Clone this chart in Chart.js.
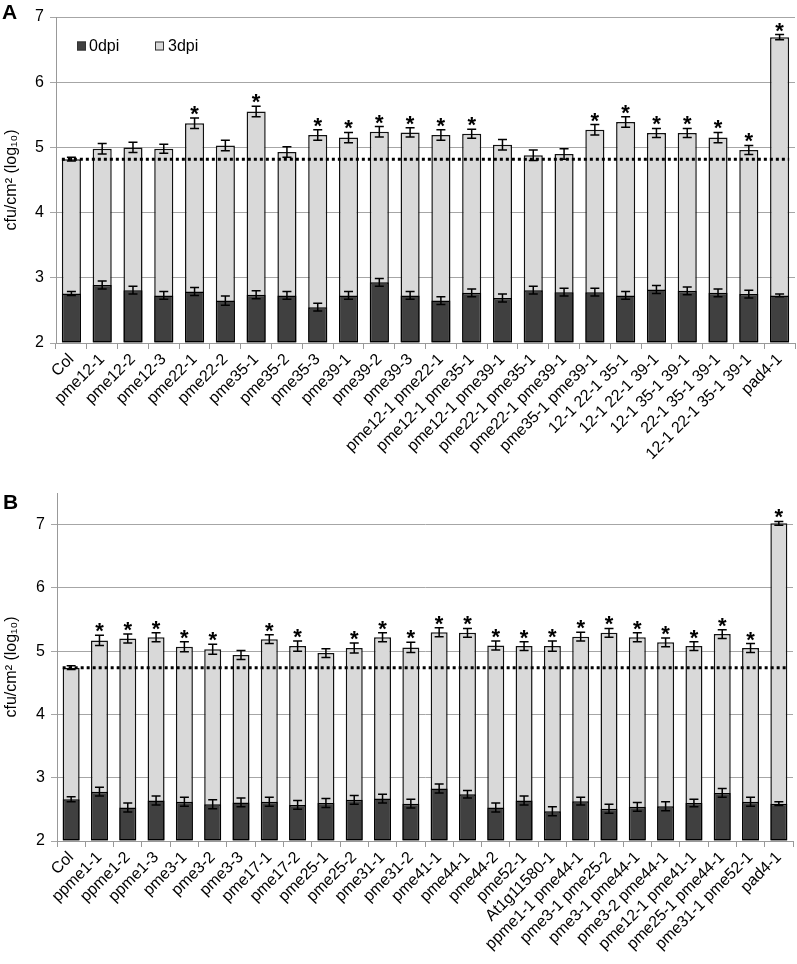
<!DOCTYPE html>
<html><head><meta charset="utf-8">
<script src="https://cdn.jsdelivr.net/npm/chart.js@4/dist/chart.umd.min.js"></script>
<style>
body{margin:0;background:#fff;width:797px;height:964px;position:relative;overflow:hidden;font-family:"Liberation Sans",Arial,sans-serif}
.panel{position:absolute;left:0}
.letter{position:absolute;font-weight:bold;font-size:21px;line-height:21px;color:#000;z-index:2}
</style></head><body>
<div class="panel" style="top:0"><canvas id="cA" width="797" height="470"></canvas></div>
<div class="panel" style="top:470px"><canvas id="cB" width="797" height="494"></canvas></div>
<div class="letter" style="left:2px;top:1px">A</div>
<div class="letter" style="left:3px;top:491px">B</div>
<script>
const labelsA = ["Col","pme12-1","pme12-2","pme12-3","pme22-1","pme22-2","pme35-1","pme35-2","pme35-3","pme39-1","pme39-2","pme39-3","pme12-1 pme22-1","pme12-1 pme35-1","pme12-1 pme39-1","pme22-1 pme35-1","pme22-1 pme39-1","pme35-1 pme39-1","12-1 22-1 35-1","12-1 22-1 39-1","12-1 35-1 39-1","22-1 35-1 39-1","12-1 22-1 35-1 39-1","pad4-1"];
const dpi3A = [4.82,4.98,5.00,4.98,5.37,5.03,5.55,4.93,5.19,5.15,5.24,5.23,5.19,5.21,5.04,4.88,4.90,5.27,5.39,5.22,5.22,5.15,4.96,6.69];
const err3A = [0.03,0.08,0.08,0.07,0.08,0.08,0.08,0.08,0.08,0.08,0.08,0.07,0.08,0.07,0.08,0.08,0.08,0.08,0.08,0.07,0.07,0.08,0.07,0.04];
const dpi0A = [2.76,2.89,2.81,2.73,2.79,2.65,2.74,2.73,2.55,2.73,2.93,2.73,2.65,2.77,2.69,2.81,2.78,2.78,2.73,2.82,2.80,2.77,2.75,2.73];
const err0A = [0.03,0.06,0.06,0.06,0.06,0.07,0.06,0.06,0.06,0.06,0.06,0.06,0.06,0.06,0.06,0.06,0.06,0.06,0.06,0.06,0.06,0.06,0.06,0.02];
const starsA = [0,0,0,0,1,0,1,0,1,1,1,1,1,1,0,0,0,1,1,1,1,1,1,1];

const labelsB = ["Col","ppme1-1","ppme1-2","ppme1-3","pme3-1","pme3-2","pme3-3","pme17-1","pme17-2","pme25-1","pme25-2","pme31-1","pme31-2","pme41-1","pme44-1","pme44-2","pme52-1","At1g11580-1","ppme1-1 pme44-1","pme3-1 pme25-2","pme3-1 pme44-1","pme3-2 pme44-1","pme12-1 pme41-1","pme25-1 pme44-1","pme31-1 pme52-1","pad4-1"];
const dpi3B = [4.74,5.17,5.20,5.22,5.07,5.03,4.94,5.19,5.08,4.97,5.05,5.22,5.06,5.30,5.29,5.09,5.08,5.08,5.23,5.29,5.22,5.14,5.08,5.27,5.05,7.02];
const err3B = [0.03,0.08,0.07,0.07,0.08,0.08,0.07,0.07,0.08,0.07,0.08,0.07,0.08,0.07,0.07,0.07,0.07,0.08,0.07,0.07,0.07,0.07,0.07,0.07,0.07,0.03];
const dpi0B = [2.66,2.78,2.53,2.64,2.62,2.58,2.61,2.62,2.57,2.60,2.65,2.67,2.59,2.83,2.74,2.53,2.64,2.47,2.63,2.51,2.54,2.55,2.60,2.76,2.62,2.59];
const err0B = [0.04,0.07,0.07,0.07,0.07,0.07,0.07,0.07,0.07,0.07,0.07,0.07,0.07,0.07,0.06,0.07,0.07,0.07,0.06,0.07,0.07,0.07,0.06,0.07,0.07,0.03];
const starsB = [0,1,1,1,1,1,0,1,1,0,1,1,1,1,1,1,1,1,1,1,1,1,1,1,1,1];

const yTicks = [2,3,4,5,6,7];
const seriesNames = ["0dpi","3dpi"];

Chart.defaults.font.family = '"Liberation Sans", Arial, sans-serif';
Chart.defaults.color = '#000';

const extras = {
  id: 'extras',
  afterDatasetsDraw(chart, args, opts) {
    const ctx = chart.ctx, y = chart.scales.y;
    const m0 = chart.getDatasetMeta(0), m3 = chart.getDatasetMeta(1);
    ctx.save();
    const ref = opts.vals3[0];
    const first = m3.data[0], last = m3.data[m3.data.length-1];
    ctx.strokeStyle = '#000'; ctx.lineWidth = 3; ctx.setLineDash([3,3]);
    ctx.beginPath();
    ctx.moveTo(first.x - first.width/2, y.getPixelForValue(ref));
    ctx.lineTo(last.x + last.width/2, y.getPixelForValue(ref));
    ctx.stroke();
    ctx.setLineDash([]);
    ctx.lineWidth = 1.5;
    const drawErr = (meta, vals, errs) => {
      meta.data.forEach((el, i) => {
        const yt = y.getPixelForValue(vals[i] + errs[i]);
        const yb = y.getPixelForValue(vals[i] - errs[i]);
        const x = el.x, c = 4.5;
        ctx.beginPath();
        ctx.moveTo(x, yt); ctx.lineTo(x, yb);
        ctx.moveTo(x - c, yt); ctx.lineTo(x + c, yt);
        ctx.moveTo(x - c, yb); ctx.lineTo(x + c, yb);
        ctx.stroke();
      });
    };
    drawErr(m3, opts.vals3, opts.errs3);
    drawErr(m0, opts.vals0, opts.errs0);
    ctx.fillStyle = '#000';
    ctx.font = 'bold 22px "Liberation Sans", Arial, sans-serif';
    ctx.textAlign = 'center'; ctx.textBaseline = 'alphabetic';
    m3.data.forEach((el, i) => {
      if (!opts.stars[i]) return;
      const yt = y.getPixelForValue(opts.vals3[i] + opts.errs3[i]);
      ctx.fillText('*', el.x, yt + 3);
    });
    if (opts.legend) {
      const ca = chart.chartArea;
      const lx = ca.left + 21, ly = ca.top + 29;
      ctx.font = '16px "Liberation Sans", Arial, sans-serif';
      ctx.textAlign = 'left'; ctx.textBaseline = 'middle';
      ctx.lineWidth = 1; ctx.strokeStyle = '#333';
      ctx.fillStyle = '#404040'; ctx.fillRect(lx, ly-4.5, 9, 9); ctx.strokeRect(lx+0.5, ly-4, 8, 8);
      ctx.fillStyle = '#000'; ctx.fillText(seriesNames[0], lx + 12, ly + 1);
      ctx.fillStyle = '#d9d9d9'; ctx.fillRect(lx+78, ly-4.5, 9, 9); ctx.strokeRect(lx+78.5, ly-4, 8, 8);
      ctx.fillStyle = '#000'; ctx.fillText(seriesNames[1], lx + 91, ly + 1);
    }
    ctx.restore();
  }
};

function makeChart(id, labels, v3, e3, v0, e0, stars, yMax, layout, legend, barPct) {
  return new Chart(document.getElementById(id), {
    type: 'bar',
    data: {
      labels: labels,
      datasets: [
        { label: seriesNames[0], data: v0, base: 2, backgroundColor: '#404040', borderColor: '#000', borderWidth: 1.5, borderSkipped: false, grouped: false, barPercentage: barPct, categoryPercentage: 1 },
        { label: seriesNames[1], data: v3, base: 2, backgroundColor: '#d9d9d9', borderColor: '#111', borderWidth: 1.5, borderSkipped: false, grouped: false, barPercentage: barPct, categoryPercentage: 1 }
      ]
    },
    options: {
      responsive: false, animation: false,
      layout: { padding: { top: layout.top, right: layout.right, left: 0, bottom: 0 } },
      plugins: { legend: { display: false }, tooltip: { enabled: false },
        extras: { vals3: v3, errs3: e3, vals0: v0, errs0: e0, stars: stars, legend: legend } },
      scales: {
        x: {
          grid: { display: true, drawOnChartArea: false, drawTicks: true, tickLength: 6, offset: true, color: '#999' },
          border: { color: '#999' },
          ticks: { autoSkip: false, maxRotation: 45, minRotation: 45, padding: 1, font: { size: 16 }, color: '#000' },
          afterFit: s => { s.height = layout.xh; }
        },
        y: {
          min: 2, max: yMax,
          afterBuildTicks: s => { s.ticks = yTicks.map(v => ({ value: v })); },
          grid: { color: '#a6a6a6', tickLength: 6, lineWidth: 1 },
          border: { color: '#999' },
          ticks: { font: { size: 16 }, padding: 6, color: '#000' },
          title: { display: true, text: 'cfu/cm² (log₁₀)', font: { size: 16 }, padding: { top: 2, bottom: 2 } },
          afterFit: s => { s.width = layout.yw; }
        }
      }
    },
    plugins: [extras]
  });
}

makeChart('cA', labelsA, dpi3A, err3A, dpi0A, err0A, starsA, 7, { top: 17, right: 2, xh: 127, yw: 56 }, true, 0.62);
makeChart('cB', labelsB, dpi3B, err3B, dpi0B, err0B, starsB, 7.5, { top: 23, right: 4, xh: 123, yw: 57 }, false, 0.6);
</script>
</body></html>
